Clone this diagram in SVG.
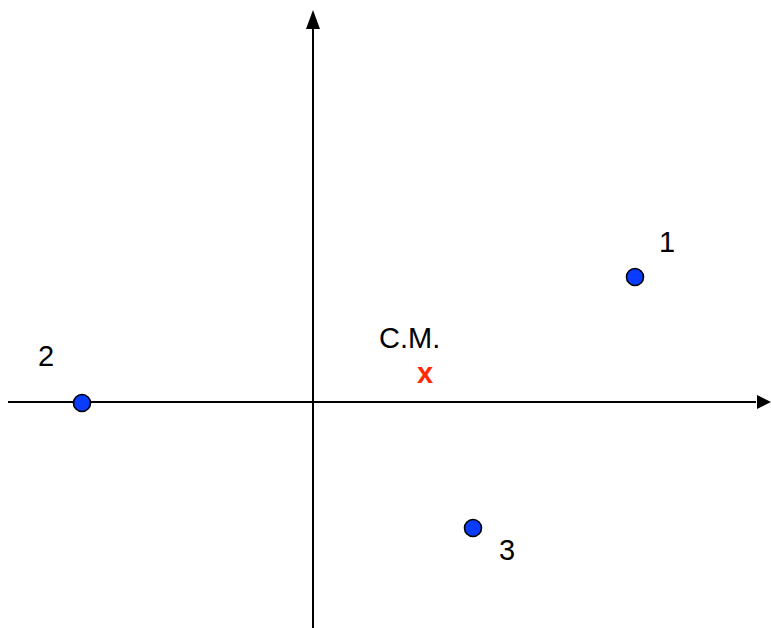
<svg xmlns="http://www.w3.org/2000/svg" width="771" height="628" viewBox="0 0 771 628">
<defs>
<style>
.ax{stroke:#000;stroke-width:2;fill:none}
.pt{fill:#0a3cff;stroke:#000;stroke-width:1.6}
.lbl{font-family:"Liberation Sans",Arial,sans-serif;font-size:29px;fill:#000}
.cm{font-family:"Liberation Sans",Arial,sans-serif;font-size:29px;font-weight:bold;fill:#ff2a00}
</style>
</defs>
<rect width="771" height="628" fill="#fff"/>
<g id="connectors">
<line class="ax" x1="313" y1="628" x2="313" y2="26"/>
<polygon points="313,10 306,29 320,29" fill="#000"/>
<line class="ax" x1="8" y1="402" x2="756" y2="402"/>
<polygon points="771,402 757,395 757,409" fill="#000"/>
</g>
<g id="p1">
<circle class="pt" cx="635" cy="277" r="8.5"/>
<text class="lbl" x="667" y="252" text-anchor="middle">1</text>
</g>
<g id="p2">
<circle class="pt" cx="82" cy="403" r="8.5"/>
<text class="lbl" x="46" y="366" text-anchor="middle">2</text>
</g>
<g id="p3">
<circle class="pt" cx="473" cy="528" r="8.5"/>
<text class="lbl" x="507" y="560" text-anchor="middle">3</text>
</g>
<g id="cm">
<text class="lbl" x="379" y="348">C.M.</text>
<text class="cm" x="425" y="383" text-anchor="middle">x</text>
</g>
</svg>
